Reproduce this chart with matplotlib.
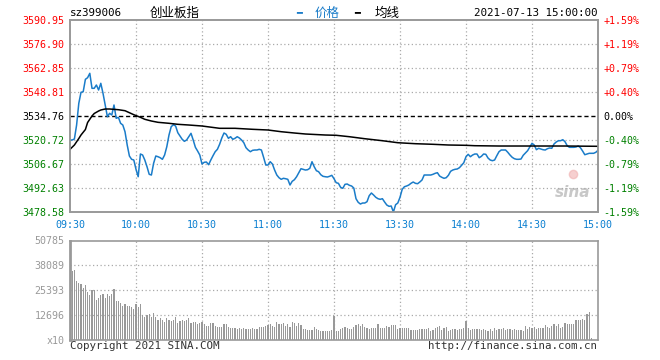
import numpy as np
import matplotlib
matplotlib.use("Agg")
import matplotlib.pyplot as plt

plt.rcParams['font.family'] = ['DejaVu Sans Mono', 'Noto Sans CJK SC']

# ---- data ----
code = "sz399006"
name = "创业板指"
stamp = "2021-07-13 15:00:00"
prev_close = 3534.76
price_ticks = [3478.58, 3492.63, 3506.67, 3520.72, 3534.76, 3548.81, 3562.85, 3576.90, 3590.95]
pct_labels = ["-1.59%", "-1.19%", "-0.79%", "-0.40%", "0.00%", "+0.40%", "+0.79%", "+1.19%", "+1.59%"]
time_labels = ["09:30", "10:00", "10:30", "11:00", "11:30", "13:30", "14:00", "14:30", "15:00"]
vol_ticks = [0, 12696, 25393, 38089, 50785]
vol_labels = ["x10", "12696", "25393", "38089", "50785"]

# price, one per minute (0 = 09:30, 240 = 15:00)
price = [
    3520.71, 3520.71, 3521.30, 3529.49, 3542.19, 3548.63, 3548.98, 3556.24, 3557.18, 3559.75,
    3550.97, 3550.97, 3552.90, 3549.98, 3553.90, 3548.05, 3541.20, 3534.35, 3536.34, 3535.35,
    3541.20, 3533.41, 3534.00, 3530.49, 3529.49, 3525.57, 3517.79, 3511.35, 3509.42, 3509.01,
    3503.56, 3499.23, 3512.52, 3511.93, 3509.01, 3505.09, 3500.64, 3500.23, 3507.08, 3511.35,
    3510.94, 3510.35, 3509.42, 3511.93, 3516.79, 3523.64, 3528.50, 3529.67, 3528.91, 3524.99,
    3523.05, 3521.12, 3519.95, 3520.71, 3522.64, 3524.63, 3520.71, 3516.44, 3514.27, 3511.93,
    3506.67, 3507.66, 3507.84, 3506.26, 3509.01, 3511.52, 3513.87, 3515.27, 3518.20, 3521.88,
    3524.81, 3524.05, 3521.71, 3522.64, 3521.12, 3521.71, 3522.64, 3521.88, 3520.71, 3519.13,
    3516.21, 3514.86, 3513.87, 3514.68, 3514.86, 3514.86, 3515.27, 3514.86, 3510.59, 3506.08,
    3506.08, 3508.01, 3506.67, 3503.15, 3500.23, 3498.65, 3497.71, 3498.30, 3498.06, 3497.71,
    3494.37, 3496.54, 3497.48, 3499.23, 3501.57, 3503.92, 3503.56, 3503.15, 3503.33, 3504.15,
    3508.01, 3505.09, 3502.74, 3502.16, 3500.40, 3499.47, 3499.23, 3499.06, 3499.47, 3500.05,
    3498.06, 3495.72, 3495.37, 3493.03, 3492.44, 3494.78, 3494.96, 3494.20, 3493.79, 3492.62,
    3486.36, 3484.25, 3483.25, 3483.84, 3483.84, 3484.60, 3488.11, 3489.69, 3488.52, 3487.18,
    3486.36, 3486.00, 3486.36, 3484.43, 3482.67, 3481.91, 3482.08, 3478.58, 3482.85, 3483.84,
    3487.18, 3491.86, 3493.38, 3493.79, 3494.37, 3495.37, 3496.13, 3495.37, 3495.14, 3496.13,
    3497.30, 3500.23, 3500.23, 3500.23, 3500.23, 3500.64, 3501.22, 3501.57, 3499.64, 3498.88,
    3498.30, 3498.65, 3500.05, 3502.39, 3503.15, 3503.56, 3503.74, 3504.50, 3505.91, 3507.43,
    3510.94, 3512.34, 3510.94, 3511.93, 3512.52, 3512.52, 3510.35, 3511.17, 3512.52, 3512.34,
    3510.18, 3509.01, 3508.60, 3509.01, 3511.52, 3513.87, 3514.86, 3514.86, 3514.86, 3513.51,
    3511.93, 3510.59, 3509.77, 3509.42, 3509.42, 3509.59, 3511.76, 3513.10, 3514.45, 3516.62,
    3518.78, 3517.79, 3515.04, 3515.86, 3515.45, 3515.04, 3514.86, 3515.62, 3516.03, 3515.86,
    3518.37, 3519.54, 3520.30, 3520.30, 3520.89, 3519.72, 3517.38, 3516.44, 3516.44, 3516.44,
    3516.62, 3517.20, 3516.21, 3514.27, 3512.11, 3512.52, 3512.93, 3512.93, 3512.93, 3513.51,
    3514.68,
]

# average line, read at these minutes
avg_min = [0, 2, 4, 5, 7, 8, 10, 11, 13, 14, 16, 18, 22, 25, 27, 29, 32, 34, 37, 40,
           45, 49, 54, 60, 68, 75, 83, 90, 96, 102, 107, 116, 121, 127, 134, 142, 149,
           157, 165, 172, 180, 184, 195, 210, 225, 240]
avg_price = [3515.27, 3517.79, 3521.59, 3523.64, 3526.86, 3530.96, 3534.76, 3536.22, 3537.69,
             3538.27, 3538.86, 3538.86, 3538.45, 3537.86, 3536.69, 3535.52, 3534.00, 3532.83,
             3531.83, 3531.07, 3530.49, 3529.90, 3529.49, 3528.91, 3527.56, 3527.56, 3526.98,
             3526.57, 3525.57, 3524.81, 3524.23, 3523.64, 3523.47, 3522.64, 3521.47, 3520.30,
             3519.13, 3518.55, 3518.20, 3517.79, 3517.61, 3517.38, 3517.20, 3517.20, 3517.20,
             3517.03]

# volume per minute (x10)
volume = [
    50785, 35400, 35900, 30270, 29070, 28560, 26500, 28200, 24450, 23085,
    25300, 25650, 20500, 21375, 23085, 23430, 21375, 23430, 22230, 23430,
    26000, 20000, 20000, 18800, 17600, 18300, 17100, 17100, 16600, 15700,
    18470, 16760, 18300, 12825, 11970, 12825, 13340, 11970, 13680, 11630,
    10260, 11115, 10260, 9405, 11115, 10260, 9920, 10260, 11970, 8890,
    9750, 10260, 9750, 10260, 11115, 8890, 9405, 9405, 8200, 8550,
    9405, 8200, 7180, 7350, 8890, 8550, 7180, 6840, 6840, 6840,
    8200, 8040, 6840, 5985, 6330, 5985, 5640, 5985, 5640, 5985,
    5640, 5640, 5470, 5985, 5640, 5640, 6500, 6840, 6500, 7180,
    7700, 8040, 7350, 6840, 9405, 8040, 8040, 8550, 7350, 8200,
    6840, 9405, 8550, 7180, 8550, 7700, 5640, 5640, 5130, 5130,
    5130, 6500, 5640, 5130, 4620, 4620, 4620, 4620, 4620, 5130,
    12300, 4790, 4620, 5640, 5985, 6500, 5985, 5640, 5640, 6840,
    7700, 8200, 7180, 8040, 6840, 5985, 5640, 5985, 5985, 5985,
    8200, 5985, 5985, 5985, 7180, 6840, 7700, 7700, 7700, 5640,
    5985, 5985, 5985, 5985, 5985, 5130, 5130, 5130, 5130, 5640,
    5640, 5640, 5640, 5985, 4620, 5130, 5985, 6500, 7180, 5130,
    5985, 6500, 4620, 5130, 5640, 5640, 5130, 5640, 5640, 5985,
    9920, 5985, 5130, 5640, 5640, 5640, 5640, 5130, 5640, 5130,
    4620, 5640, 4620, 5985, 5130, 5640, 5640, 5985, 5130, 5640,
    5640, 5130, 5640, 5130, 5130, 5130, 4620, 7180, 5640, 6840,
    5985, 6500, 5640, 5985, 5985, 5985, 7700, 6500, 5985, 7180,
    8200, 7180, 8040, 5985, 6840, 8890, 8200, 8200, 8200, 8200,
    10260, 10260, 10260, 10770, 10260, 13340, 14190, 900, 0, 0,
    0,
]

minutes = np.arange(len(price))
blue = '#1a7cc9'
red = '#ff0000'
green = '#008000'
grey = '#999999'

fig = plt.figure(figsize=(6.6, 3.6), dpi=100)
ax = fig.add_axes([70 / 660, 1 - 212 / 360, 528 / 660, 192 / 360])
axv = fig.add_axes([70 / 660, 1 - 340 / 360, 528 / 660, 99.5 / 360])

# ---- price panel ----
ax.plot(minutes, price, color=blue, lw=1.1, zorder=3)
ax.plot(avg_min, avg_price, color='black', lw=1.1, zorder=4)
ax.set_xlim(0, 240)
ax.set_ylim(price_ticks[0], price_ticks[-1])
ax.set_xticks(np.arange(0, 241, 30))
ax.set_xticklabels(time_labels)
ax.set_yticks(price_ticks)
ax.set_yticklabels(["%.2f" % p for p in price_ticks])
for t in ax.get_yticklabels():
    v = float(t.get_text())
    t.set_color(red if v > prev_close + 0.01 else (green if v < prev_close - 0.01 else 'black'))
for t in ax.get_xticklabels():
    t.set_color('#0a7fd0')
ax.tick_params(length=0, labelsize=7.2, pad=4)
ax.tick_params(axis='x', pad=6)
for y in price_ticks[1:-1]:
    if abs(y - prev_close) < 0.01:
        ax.axhline(y, color='black', lw=1, ls=(0, (3, 2)), zorder=2)
    else:
        ax.axhline(y, color='#aaaaaa', lw=0.9, ls=(0, (1, 2)), zorder=1)
for x in range(30, 240, 30):
    ax.axvline(x, color='#aaaaaa', lw=0.9, ls=(0, (1, 2)), zorder=1)

axr = ax.twinx()
axr.set_ylim(ax.get_ylim())
axr.set_yticks(price_ticks)
axr.set_yticklabels(pct_labels)
for t, p in zip(axr.get_yticklabels(), price_ticks):
    t.set_color(red if p > prev_close + 0.01 else (green if p < prev_close - 0.01 else 'black'))
axr.tick_params(length=0, labelsize=7.2, pad=4)

for a in (ax, axr, axv):
    for s in a.spines.values():
        s.set_color(grey)
        s.set_linewidth(1.2)
axv.spines['left'].set_linewidth(2)

# sina watermark
ax.text(0.985, 0.06, "sina", transform=ax.transAxes, ha='right', va='bottom',
        fontsize=11, fontweight='bold', style='italic', color='#c8c8c8',
        family='DejaVu Sans', zorder=0)
ax.plot([0.952], [0.2], 'o', transform=ax.transAxes, ms=6, color='#f0b0b0',
        alpha=0.6, zorder=0)

# ---- volume panel ----
axv.bar(minutes, volume, width=0.5, color=grey, zorder=3)
axv.set_xlim(0, 240)
axv.set_ylim(0, vol_ticks[-1])
axv.set_yticks(vol_ticks)
axv.set_yticklabels(vol_labels)
axv.set_xticks([])
axv.tick_params(length=0, labelsize=7.2, pad=4, labelcolor=grey)
for y in vol_ticks[1:-1]:
    axv.axhline(y, color='#aaaaaa', lw=0.9, ls=(0, (1, 2)), zorder=1)
for x in range(30, 240, 30):
    axv.axvline(x, color='#aaaaaa', lw=0.9, ls=(0, (1, 2)), zorder=1)

# ---- header / footer ----
fig.text(70 / 660, 1 - 13 / 360, code, fontsize=7.8, va='center', ha='left')
fig.text(150 / 660, 1 - 13 / 360, name, fontsize=9, va='center', ha='left',
         family=['Noto Sans CJK SC', 'DejaVu Sans'])
fig.text(0.4485, 1 - 12 / 360, "━", color=blue, fontsize=7, va='center', ha='left',
         family='DejaVu Sans')
fig.text(315 / 660, 1 - 13 / 360, "价格", color=blue, fontsize=9, va='center', ha='left',
         family=['Noto Sans CJK SC', 'DejaVu Sans'])
fig.text(0.5365, 1 - 12 / 360, "━", color='black', fontsize=7, va='center', ha='left',
         family='DejaVu Sans')
fig.text(375 / 660, 1 - 13 / 360, "均线", color='black', fontsize=9, va='center', ha='left',
         family=['Noto Sans CJK SC', 'DejaVu Sans'])
fig.text(597 / 660, 1 - 13 / 360, stamp, fontsize=7.8, va='center', ha='right')
fig.text(70 / 660, 1 - 346 / 360, "Copyright 2021 SINA.COM", fontsize=7.8, color='#333333',
         va='center', ha='left')
fig.text(597 / 660, 1 - 346 / 360, "http://finance.sina.com.cn", fontsize=7.8, color='#333333',
         va='center', ha='right')

fig.savefig("out.png", dpi=100, facecolor='white')
